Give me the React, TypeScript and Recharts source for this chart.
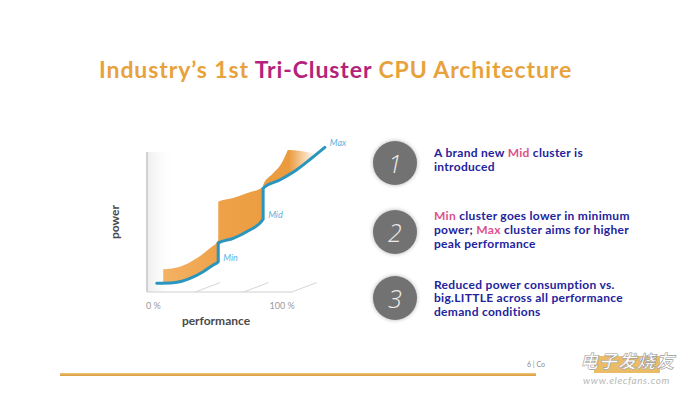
import React from "react";
import {Area, ComposedChart, LabelList, Line, ReferenceArea, ReferenceLine, XAxis, YAxis} from "recharts";

// tri-cluster curve (performance %, relative power)
const curvePerf = [6.7, 18.1, 29.7, 38.8, 45.7, 49.2, 49.2, 59.5, 68.8, 80.2, 80.2, 91.7, 103.2, 113.6, 122.8];
const curvePower = [5.9, 6.3, 9.3, 13.8, 18.4, 20.6, 33.3, 36.5, 41.0, 49.5, 70.5, 76.2, 83.0, 91.0, 98.4];
const curveLabels = ["", "", "", "", "", "Min", "", "", "", "Mid", "", "", "", "", "Max"];

// orange band = power saved against big.LITTLE
const bandPerf = [11.2, 22.8, 34.3, 43.4, 49.2, 49.2, 59.5, 68.8, 80.2, 80.2, 87.1, 92.9, 96.3, 97.4, 106, 114.7];
const bandLow = [6.0, 7.5, 11.6, 16.9, 20.6, 33.3, 36.5, 41.0, 49.5, 70.5, 73.9, 76.8, 78.9, 79.6, 85.0, 91.9];
const bandHigh = [15.4, 17.2, 22.9, 29.7, 35.4, 61.4, 63.9, 67.1, 71.6, 72.8, 80.7, 87.6, 94.4, 96.6, 96.0, 94.4];

const perfTicks = [0, 100];
const floorTicks = [33.3, 66.7, 100];

const curveData = curvePerf.map((p, i) => ({perf: p, power: curvePower[i], label: curveLabels[i]}));
const bandData = bandPerf.map((p, i) => ({perf: p, range: [bandLow[i], bandHigh[i]]}));

const navy = "#23239c";
const pink = "#e0508c";

const PerfTick = ({x, y, payload}: any) => {
    const first = payload.value === 0;
    return (
        <text x={first ? x - 1 : x + 3} y={y + 9} textAnchor={first ? "start" : "end"}
              fontSize={9} fill="#9a9a9a" fontFamily="Lato, sans-serif">
            {payload.value} %
        </text>
    );
};

const ClusterLabel = ({x, y, value}: any) => {
    if (!value) return null;
    return (
        <text x={x + 5} y={y - 1} fontSize={9} fontStyle="italic" fill="#5ab4de" fontFamily="Lato, sans-serif">
            {value}
        </text>
    );
};

const CurveChart = () => (
    <ComposedChart width={260} height={200} margin={{top: 10, right: 32, bottom: 13, left: 7}}>
        <defs>
            <linearGradient id="wall" x1="0" y1="0" x2="1" y2="0">
                <stop offset="0" stopColor="#d9d9d9" stopOpacity={0.9}/>
                <stop offset="1" stopColor="#ffffff" stopOpacity={0}/>
            </linearGradient>
            <linearGradient id="band" x1="0" y1="0" x2="1" y2="0">
                <stop offset="0" stopColor="#f4b264"/>
                <stop offset="0.4" stopColor="#eea148"/>
                <stop offset="0.84" stopColor="#eb9b3e"/>
                <stop offset="1" stopColor="#eb9b3e" stopOpacity={0.1}/>
            </linearGradient>
        </defs>
        <XAxis type="number" dataKey="perf" domain={[0, 125]} ticks={perfTicks} interval={0}
               axisLine={false} tickLine={false} height={30} tick={<PerfTick/>}
               label={() => (
                   <text x={116} y={190} textAnchor="middle" fontSize={12} fontWeight={700}
                         fill="#4a4a4a" fontFamily="Lato, sans-serif">performance</text>
               )}/>
        <YAxis type="number" domain={[0, 100]} width={40} tick={false} axisLine={false} tickLine={false}
               label={() => (
                   <text x={19} y={87} transform="rotate(-90 19 87)" textAnchor="middle" fontSize={12}
                         fontWeight={700} fill="#4a4a4a" fontFamily="Lato, sans-serif">power</text>
               )}/>
        <ReferenceArea x1={0} x2={20} y1={0} y2={95} fill="url(#wall)" stroke="none" ifOverflow="visible"/>
        <ReferenceLine segment={[{x: 0, y: 0}, {x: 0, y: 95.2}]} stroke="#c4c4c4" strokeWidth={1.5} ifOverflow="visible"/>
        <ReferenceLine segment={[{x: 0, y: 0}, {x: 100, y: 0}]} stroke="#cfcfcf" strokeWidth={1.2} ifOverflow="visible"/>
        {floorTicks.map(t => (
            <ReferenceLine key={t} segment={[{x: t, y: 0}, {x: t + 17.2, y: 6.4}]} stroke="#d6d6d6"
                           strokeWidth={1} ifOverflow="visible"/>
        ))}
        <Area data={bandData} dataKey="range" type="monotone" fill="url(#band)" fillOpacity={1} stroke="none"
              isAnimationActive={false}/>
        <Line data={curveData} dataKey="power" type="monotone" stroke="#2a95bd" strokeWidth={3} dot={false}
              strokeLinecap="round" isAnimationActive={false}>
            <LabelList dataKey="label" content={<ClusterLabel/>}/>
        </Line>
    </ComposedChart>
);

const points = [
    {top: 146, lines: [<>A brand new <span style={{color: pink}}>Mid</span> cluster is</>, <>introduced</>]},
    {top: 209, lines: [<><span style={{color: pink}}>Min</span> cluster goes lower in minimum</>,
            <>power; <span style={{color: pink}}>Max</span> cluster aims for higher</>, <>peak performance</>]},
    {top: 277.5, lines: [<>Reduced power consumption vs.</>, <>big.LITTLE across all performance</>,
            <>demand conditions</>]},
];
const circleCentres = [163, 232, 298];

export default function App() {
    return (
        <div style={{position: "fixed", left: 0, top: 0, width: 698, height: 397, background: "#fff",
            overflow: "hidden", fontFamily: "Lato, 'Open Sans', sans-serif"}}>
            <div style={{position: "absolute", left: 99, top: 56, fontSize: 23, lineHeight: "26px",
                fontWeight: 700, color: "#e8a23c", whiteSpace: "nowrap", letterSpacing: 0.9}}>
                Industry’s 1st <span style={{color: "#b3237b"}}>Tri-Cluster</span> CPU Architecture
            </div>

            <div style={{position: "absolute", left: 100, top: 135}}>
                <CurveChart/>
            </div>

            {circleCentres.map((cy, i) => (
                <div key={i} style={{position: "absolute", left: 395 - 22, top: cy - 22, width: 44, height: 44,
                    borderRadius: "50%", background: "#727272", boxShadow: "0 0 4px rgba(0,0,0,0.3)",
                    color: "#ececec", fontFamily: "'Open Sans', sans-serif", fontWeight: 300, fontStyle: "italic",
                    fontSize: 25, lineHeight: "44px", textAlign: "center"}}>
                    {i + 1}
                </div>
            ))}

            {points.map((pt, i) => (
                <div key={i} style={{position: "absolute", left: 434, top: pt.top, fontSize: 12,
                    lineHeight: "13.9px", fontWeight: 700, color: navy, whiteSpace: "nowrap", letterSpacing: 0.3}}>
                    {pt.lines.map((l, j) => <div key={j}>{l}</div>)}
                </div>
            ))}

            <div style={{position: "absolute", left: 60, top: 373, width: 476, height: 3,
                background: "linear-gradient(#f2c477, #d59b40)"}}/>
            <div style={{position: "absolute", left: 527, top: 360, fontSize: 7, color: "#8a8a8a"}}>6 | Co</div>
            <div style={{position: "absolute", left: 594, top: 356, width: 66, height: 17, background: "#e8b04e",
                opacity: 0.85}}/>
            <div style={{position: "absolute", left: 580, top: 347, fontSize: 18, fontStyle: "italic",
                color: "#ffffff", WebkitTextStroke: "0.6px #9a9a9a", fontFamily: "'Noto Sans CJK SC', sans-serif",
                fontWeight: 700, letterSpacing: 1}}>电子发烧友</div>
            <div style={{position: "absolute", left: 583, top: 374, fontSize: 10, color: "#b8b8b8",
                fontStyle: "italic", letterSpacing: 0.6}}>www.elecfans.com</div>
        </div>
    );
}
